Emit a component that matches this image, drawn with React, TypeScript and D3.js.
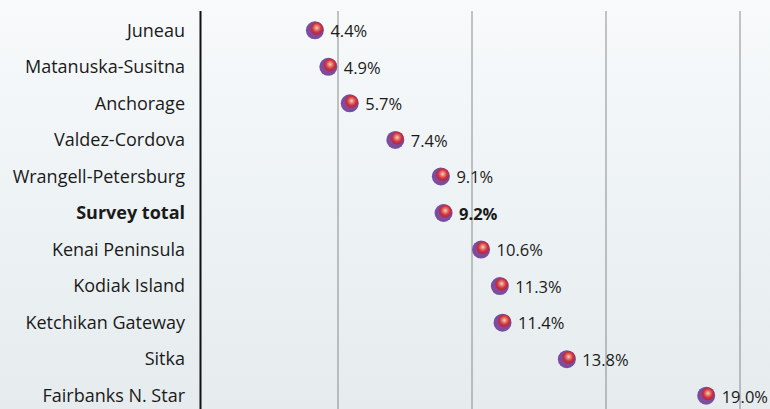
import React from "react";
import * as d3 from "d3";

const regions = [
  "Juneau",
  "Matanuska-Susitna",
  "Anchorage",
  "Valdez-Cordova",
  "Wrangell-Petersburg",
  "Survey total",
  "Kenai Peninsula",
  "Kodiak Island",
  "Ketchikan Gateway",
  "Sitka",
  "Fairbanks N. Star",
];
const rates = [4.4, 4.9, 5.7, 7.4, 9.1, 9.2, 10.6, 11.3, 11.4, 13.8, 19.0];
const gridTicks = [5, 10, 15, 20];
const highlight = "Survey total";

const W = 770;
const H = 409;

export default function App() {
  const x = d3.scaleLinear().domain([0, 20]).range([204, 740]);
  const y = d3.scaleBand<string>().domain(regions).range([12, 414]);
  const fmt = (v: number) => d3.format(".1f")(v) + "%";
  const font = "'Open Sans', 'Noto Sans', sans-serif";
  const markerShift = -7;

  return (
    <svg
      width={W}
      height={H}
      style={{ position: "fixed", left: 0, top: 0, display: "block" }}
    >
      <defs>
        <linearGradient id="bg" x1="0" y1="0" x2="0" y2="1">
          <stop offset="0%" stopColor="#f8fafb" />
          <stop offset="45%" stopColor="#eef3f5" />
          <stop offset="100%" stopColor="#e6ecee" />
        </linearGradient>
        <radialGradient id="redball" cx="50%" cy="45%" r="55%">
          <stop offset="0%" stopColor="#f6d2c0" />
          <stop offset="30%" stopColor="#e48070" />
          <stop offset="65%" stopColor="#cc3040" />
          <stop offset="100%" stopColor="#b02848" />
        </radialGradient>
        <radialGradient id="purpball" cx="40%" cy="60%" r="60%">
          <stop offset="0%" stopColor="#8a4a9a" />
          <stop offset="100%" stopColor="#6f4fa2" />
        </radialGradient>
      </defs>
      <rect x={0} y={0} width={W} height={H} fill="url(#bg)" />

      {gridTicks.map((t) => (
        <line
          key={t}
          x1={x(t)}
          x2={x(t)}
          y1={11}
          y2={H}
          stroke="#8a8a8a"
          strokeWidth={1}
        />
      ))}
      <line x1={200.5} x2={200.5} y1={11} y2={H} stroke="#111" strokeWidth={2} />

      {regions.map((r, i) => {
        const cy = (y(r) as number) + y.bandwidth() / 2;
        const cx = x(rates[i]) + markerShift;
        const bold = r === highlight;
        return (
          <g key={r}>
            <text
              x={185}
              y={cy}
              dy="0.35em"
              textAnchor="end"
              fontFamily={font}
              fontSize={18}
              fontWeight={bold ? 700 : 400}
              fill="#1a1a1a"
            >
              {r}
            </text>
            <circle cx={cx} cy={cy} r={9} fill="url(#purpball)" />
            <circle cx={cx + 1.8} cy={cy - 1.8} r={6.4} fill="url(#redball)" />
            <text
              x={cx + 15.5}
              y={cy + 1}
              dy="0.35em"
              fontFamily={font}
              fontSize={16.5}
              fontWeight={bold ? 700 : 400}
              fill="#1a1a1a"
            >
              {fmt(rates[i])}
            </text>
          </g>
        );
      })}
    </svg>
  );
}
